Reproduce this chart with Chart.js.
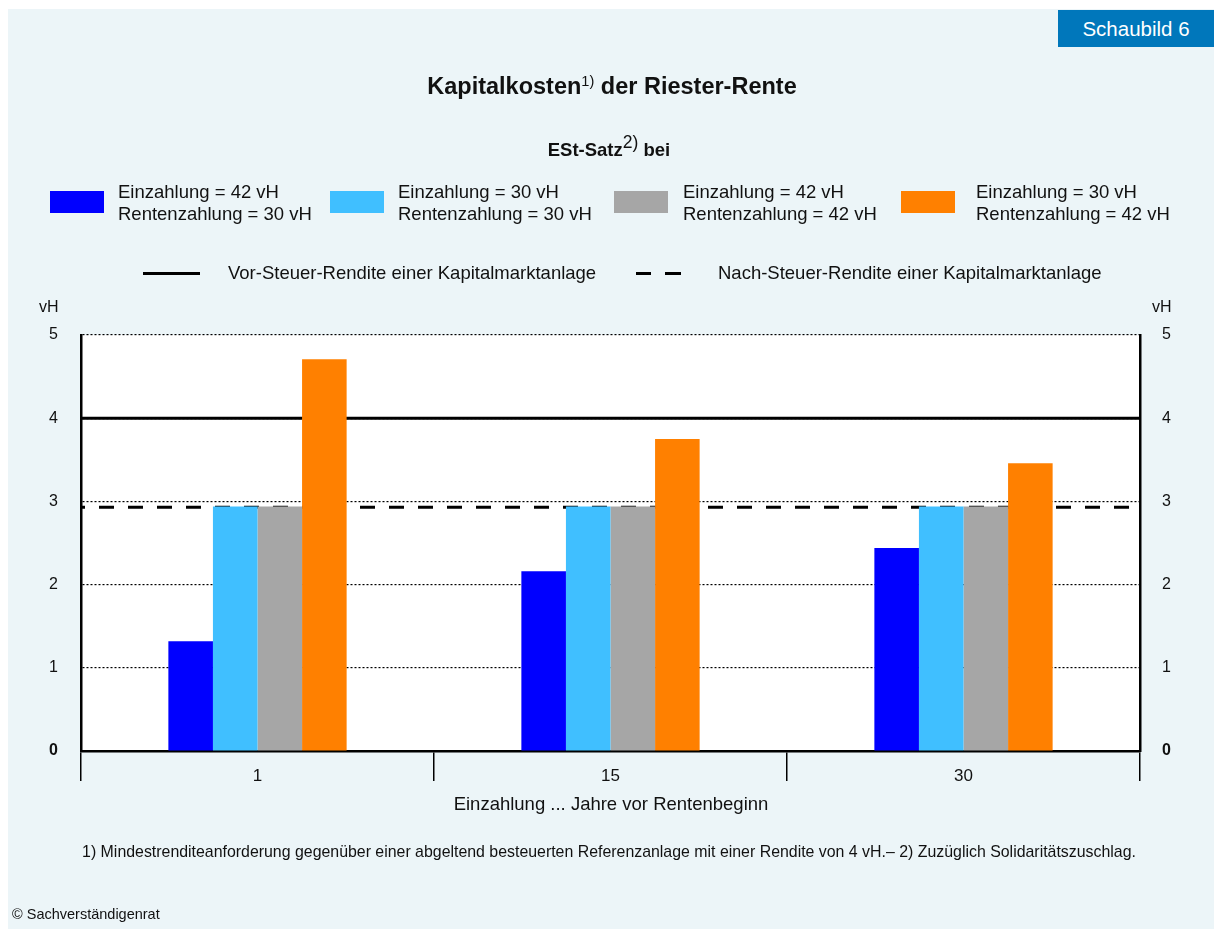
<!DOCTYPE html>
<html>
<head>
<meta charset="utf-8">
<script src="https://cdn.jsdelivr.net/npm/chart.js@4/dist/chart.umd.min.js"></script>
<style>
  html, body { margin: 0; padding: 0; background: #fff; }
  body { width: 1214px; height: 929px; position: relative; overflow: hidden;
         font-family: "Liberation Sans", Arial, sans-serif; color: #111; }
  #panel { position: absolute; left: 8px; top: 9px; right: 0; bottom: 0; background: #ecf5f8; }
  #chartWrap { position: absolute; left: 0; top: 0; width: 1214px; height: 929px; }
  .abs { position: absolute; white-space: nowrap; }
  #badge { left: 1058px; top: 10px; width: 156px; height: 37px; background: #0077bb; color: #fff;
           font-size: 20.5px; line-height: 37px; text-align: center; }
  #title { left: 0; width: 1224px; top: 73px; text-align: center; font-size: 23.5px; font-weight: bold; }
  #subtitle { left: 0; width: 1218px; top: 139px; text-align: center; font-size: 18.5px; font-weight: bold; }
  #title sup { font-size: 62%; font-weight: normal; vertical-align: 0.55em; line-height: 0; }
  #subtitle sup { font-size: 95%; font-weight: normal; vertical-align: 0.45em; line-height: 0; }
  .lgBox { position: absolute; width: 54px; height: 22px; }
  .lgText { position: absolute; font-size: 18.5px; line-height: 22px; white-space: nowrap; }
  .lgLine { position: absolute; height: 0; }
  #xTitle { left: 0; width: 1222px; top: 793px; text-align: center; font-size: 18.5px; }
  #note { left: 0; width: 1218px; top: 843px; text-align: center; font-size: 15.9px; }
  #copy { left: 12px; top: 906px; font-size: 14.5px; }
  .vh { top: 298px; font-size: 16px; }
</style>
</head>
<body>
<div id="panel"></div>
<div id="chartWrap"><canvas id="chart" width="1214" height="929"></canvas></div>
<div class="abs" id="badge">Schaubild 6</div>
<div class="abs" id="title">Kapitalkosten<sup>1)</sup> der Riester-Rente</div>
<div class="abs" id="subtitle">ESt-Satz<sup>2)</sup> bei</div>
<div id="legend"></div>
<div class="abs vh" style="left:39px">vH</div>
<div class="abs vh" style="left:1152px">vH</div>
<div class="abs" id="xTitle">Einzahlung ... Jahre vor Rentenbeginn</div>
<div class="abs" id="note">1) Mindestrenditeanforderung gegenüber einer abgeltend besteuerten Referenzanlage mit einer Rendite von 4 vH.– 2) Zuzüglich Solidaritätszuschlag.</div>
<div class="abs" id="copy">© Sachverständigenrat</div>

<script>
// ============================
// DATA
// ============================
const categories = ["1", "15", "30"];

const seriesNames = [
  ["Einzahlung = 42 vH", "Rentenzahlung = 30 vH"],
  ["Einzahlung = 30 vH", "Rentenzahlung = 30 vH"],
  ["Einzahlung = 42 vH", "Rentenzahlung = 42 vH"],
  ["Einzahlung = 30 vH", "Rentenzahlung = 42 vH"]
];
const blueValues = [1.32, 2.16, 2.44];
const lightBlueValues = [2.94, 2.94, 2.94];
const grayValues = [2.94, 2.94, 2.94];
const orangeValues = [4.71, 3.75, 3.46];

const lineNames = ["Vor-Steuer-Rendite einer Kapitalmarktanlage", "Nach-Steuer-Rendite einer Kapitalmarktanlage"];
const vorSteuerRendite = 4;
const nachSteuerRendite = 2.93;

const yTicks = [0, 1, 2, 3, 4, 5];

const barColors = ["#0000ff", "#40bfff", "#a6a6a6", "#ff8000"];

// ============================
// LEGEND (HTML)
// ============================
const legend = document.getElementById("legend");
const boxX = [50, 330, 614, 901];
const textX = [118, 398, 683, 976];
seriesNames.forEach((lines, i) => {
  const b = document.createElement("div");
  b.className = "lgBox";
  b.style.left = boxX[i] + "px";
  b.style.top = "191px";
  b.style.background = barColors[i];
  legend.appendChild(b);
  const t = document.createElement("div");
  t.className = "lgText";
  t.style.left = textX[i] + "px";
  t.style.top = "181px";
  t.innerHTML = lines.join("<br>");
  legend.appendChild(t);
});
const lineX = [[143, 57], [636, 45]];
const lineTextX = [228, 718];
lineNames.forEach((name, i) => {
  const l = document.createElement("div");
  l.className = "lgLine";
  l.style.left = lineX[i][0] + "px";
  l.style.width = lineX[i][1] + "px";
  l.style.top = "272px";
  l.style.height = "3px";
  l.style.background = i === 0 ? "#000"
    : "linear-gradient(90deg,#000 0 15px,transparent 15px 29px,#000 29px 45px)";
  legend.appendChild(l);
  const t = document.createElement("div");
  t.className = "lgText";
  t.style.left = lineTextX[i] + "px";
  t.style.top = "262px";
  t.textContent = name;
  legend.appendChild(t);
});

// ============================
// PLUGINS: white plot area + reference lines (behind bars)
// ============================
const whiteArea = {
  id: "whiteArea",
  beforeDraw(chart) {
    const { ctx, chartArea: a } = chart;
    ctx.save();
    ctx.fillStyle = "#fff";
    ctx.fillRect(a.left, a.top, a.right - a.left, a.bottom - a.top);
    ctx.restore();
  }
};

const refLines = {
  id: "refLines",
  beforeDatasetsDraw(chart) {
    const { ctx, chartArea: a, scales } = chart;
    const lines = [
      { v: vorSteuerRendite, dash: [] },
      { v: nachSteuerRendite, dash: [15, 14] }
    ];
    ctx.save();
    ctx.strokeStyle = "#000";
    ctx.lineWidth = 3;
    lines.forEach(l => {
      const y = scales.y.getPixelForValue(l.v);
      ctx.setLineDash(l.dash);
      ctx.lineDashOffset = 11;
      ctx.beginPath();
      ctx.moveTo(a.left, y);
      ctx.lineTo(a.right, y);
      ctx.stroke();
    });
    ctx.restore();
  }
};

const bars = [blueValues, lightBlueValues, grayValues, orangeValues].map((vals, i) => ({
  type: "bar",
  label: seriesNames[i].join(" / "),
  data: vals,
  backgroundColor: barColors[i],
  borderWidth: 0,
  barPercentage: 1,
  categoryPercentage: 0.505
}));

const yFont = (ctx) => ({
  family: "'Liberation Sans', Arial, sans-serif",
  size: 16,
  weight: ctx.tick && ctx.tick.value === 0 ? "bold" : "normal"
});

new Chart(document.getElementById("chart"), {
  type: "bar",
  data: {
    labels: categories,
    datasets: bars
  },
  options: {
    responsive: false,
    animation: false,
    layout: { padding: { top: 335, left: 0, right: 0, bottom: 0 } },
    plugins: { legend: { display: false }, tooltip: { enabled: false } },
    scales: {
      x: {
        offset: true,
        grid: { offset: true, drawOnChartArea: false, drawTicks: true, tickLength: 30, color: "#000", lineWidth: 1.5 },
        border: { display: true, color: "#000", width: 2.5 },
        ticks: { color: "#111", padding: -15, font: { family: "'Liberation Sans', Arial, sans-serif", size: 17 } },
        afterFit(s) { s.height = 178; }
      },
      y: {
        position: "left",
        min: 0,
        max: 5,
        afterBuildTicks(s) { s.ticks = yTicks.map(v => ({ value: v })); },
        grid: { color: "#000", lineWidth: 1.2, drawTicks: false },
        border: { display: true, color: "#000", width: 2.5, dash: [2, 2] },
        ticks: { color: "#111", padding: 23, font: yFont },
        afterFit(s) { s.width = 81; }
      },
      y2: {
        position: "right",
        min: 0,
        max: 5,
        afterBuildTicks(s) { s.ticks = yTicks.map(v => ({ value: v })); },
        grid: { drawOnChartArea: false, drawTicks: false },
        border: { display: true, color: "#000", width: 2.5 },
        ticks: { color: "#111", padding: 22, font: yFont },
        afterFit(s) { s.width = 74; }
      }
    }
  },
  plugins: [whiteArea, refLines]
});
</script>
</body>
</html>
